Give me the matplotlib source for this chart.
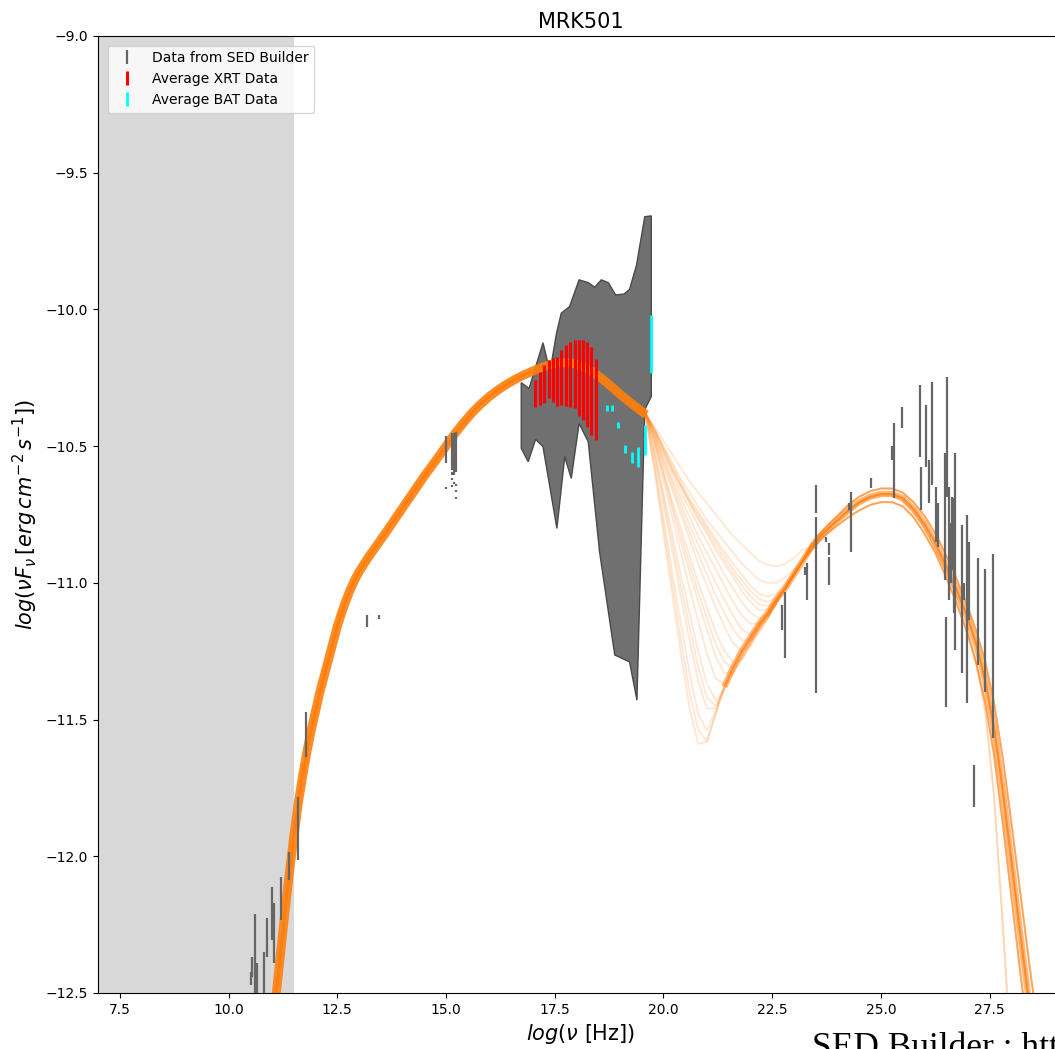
import matplotlib
matplotlib.use("Agg")
import matplotlib.pyplot as plt
import numpy as np

# ---------------- data ----------------
# archival SED Builder points (log nu, lower / upper log nuFnu)
sed_x = [10.51, 10.55, 10.62, 10.66, 10.82, 10.88, 10.99, 11.05, 11.20, 11.38, 11.60, 11.79,
         13.18, 13.45,
         14.99, 15.14, 15.19, 15.22, 15.14, 15.14, 15.14, 15.19, 15.22, 15.22, 15.24, 14.99,
         22.73, 22.80, 23.26, 23.29, 23.50, 23.50, 23.74, 23.81, 23.81, 24.26, 24.30, 24.76,
         25.25, 25.30, 25.49, 25.89, 25.92, 26.03, 26.11, 26.18, 26.26, 26.31, 26.48, 26.50,
         26.52, 26.57, 26.60, 26.64, 26.67, 26.70, 26.86, 26.90, 26.98, 27.02, 27.13, 27.22,
         27.39, 27.58]
sed_lo = [-12.471, -12.44, -12.55, -12.55, -12.55, -12.368, -12.306, -12.392, -12.233, -12.087, -12.014, -11.636,
          -11.163, -11.131,
          -10.561, -10.587, -10.606, -10.595, -10.604, -10.624, -10.649, -10.640, -10.646, -10.667, -10.695, -10.658,
          -11.173, -11.276, -10.971, -11.063, -10.746, -11.404, -10.850, -10.898, -11.008, -10.734, -10.886, -10.654,
          -10.551, -10.691, -10.435, -10.541, -10.734, -10.575, -10.709, -10.642, -10.850, -10.868, -10.990, -11.453,
          -10.685, -11.063, -11.001, -10.953, -11.112, -11.246, -11.331, -11.063, -11.441, -11.136, -11.819, -11.301,
          -11.398, -11.569]
sed_hi = [-12.422, -12.37, -12.21, -12.39, -12.35, -12.227, -12.111, -12.172, -12.077, -11.983, -11.782, -11.471,
          -11.118, -11.118,
          -10.463, -10.453, -10.453, -10.450, -10.596, -10.616, -10.641, -10.632, -10.638, -10.659, -10.687, -10.650,
          -11.081, -11.032, -10.941, -10.929, -10.642, -10.758, -10.831, -10.856, -10.904, -10.709, -10.667, -10.618,
          -10.500, -10.414, -10.358, -10.276, -10.575, -10.350, -10.551, -10.264, -10.648, -10.709, -10.526, -11.124,
          -10.246, -10.648, -10.782, -10.685, -10.691, -10.526, -10.789, -11.001, -10.752, -10.850, -11.667, -10.910,
          -10.951, -10.895]

# Swift-XRT averaged spectrum
xrt_x = [17.04, 17.16, 17.25, 17.36, 17.45, 17.55, 17.65, 17.75, 17.86, 17.96, 18.06, 18.15, 18.24, 18.34, 18.46]
xrt_lo = [-10.358, -10.350, -10.341, -10.325, -10.338, -10.353, -10.350, -10.353, -10.356, -10.362, -10.390,
          -10.404, -10.429, -10.459, -10.478]
xrt_hi = [-10.258, -10.228, -10.203, -10.185, -10.179, -10.173, -10.148, -10.130, -10.118, -10.112, -10.112,
          -10.112, -10.118, -10.136, -10.183]

# Swift-BAT averaged spectrum
bat_x = [18.71, 18.82, 18.95, 19.11, 19.27, 19.42, 19.58, 19.72]
bat_lo = [-10.371, -10.371, -10.433, -10.526, -10.561, -10.575, -10.532, -10.234]
bat_hi = [-10.350, -10.350, -10.411, -10.496, -10.520, -10.502, -10.423, -10.020]

# envelope of the X-ray variability (polygon outline)
poly_x = [16.73, 16.91, 17.23, 17.39, 17.54, 17.65, 17.84, 18.06, 18.27, 18.42, 18.57, 18.73, 18.90, 19.09,
          19.22, 19.38, 19.57, 19.72, 19.72, 19.57, 19.39, 19.22, 18.88, 18.53, 18.27, 18.06, 17.88, 17.73,
          17.55, 17.23, 17.06, 16.89, 16.73]
poly_y = [-10.268, -10.289, -10.122, -10.228, -10.088, -10.014, -9.990, -9.892, -9.902, -9.919, -9.892, -9.902,
          -9.947, -9.944, -9.927, -9.838, -9.661, -9.658, -10.319, -10.366, -11.429, -11.289, -11.264, -10.886,
          -10.484, -10.417, -10.618, -10.539, -10.801, -10.502, -10.475, -10.557, -10.508]

# model curves: synchrotron part (common to all realisations)
sync_x = [10.9, 11.0, 11.1, 11.2, 11.3, 11.4, 11.5, 11.6, 11.7, 11.8, 11.9, 12.0, 12.1, 12.2, 12.3, 12.4,
          12.5, 12.6, 12.7, 12.8, 12.9, 13.0, 13.2, 13.4, 13.6, 13.9, 14.2, 14.5, 14.8, 15.0, 15.2, 15.4,
          15.6, 15.8, 16.0, 16.2, 16.4, 16.6, 16.8, 17.0, 17.2, 17.4, 17.6, 17.8, 18.0, 18.2, 18.4, 18.6,
          18.8, 19.0, 19.2, 19.4, 19.6]
sync_y = [-12.80, -12.65, -12.50, -12.35, -12.20, -12.06, -11.93, -11.81, -11.71, -11.62, -11.54, -11.47,
          -11.40, -11.34, -11.28, -11.22, -11.16, -11.11, -11.065, -11.025, -10.99, -10.96, -10.91, -10.865,
          -10.82, -10.75, -10.68, -10.61, -10.545, -10.50, -10.455, -10.415, -10.378, -10.346, -10.318, -10.294,
          -10.273, -10.255, -10.239, -10.225, -10.212, -10.202, -10.196, -10.195, -10.200, -10.212, -10.231,
          -10.255, -10.282, -10.31, -10.336, -10.361, -10.385]

# model curves: dip region (one row per realisation)
mid_x = [19.6, 19.8, 20.0, 20.2, 20.4, 20.6, 20.8, 21.0, 21.2, 21.4, 21.6, 21.8, 22.0, 22.2, 22.4, 22.6,
         22.8, 23.0, 23.2]
mid_curves = [
    [-10.385, -10.43, -10.48, -10.53, -10.58, -10.63, -10.67, -10.71, -10.75, -10.79, -10.83, -10.86, -10.89, -10.92, -10.935, -10.94, -10.93, -10.91, -10.88],
    [-10.385, -10.44, -10.50, -10.56, -10.62, -10.67, -10.72, -10.77, -10.81, -10.85, -10.89, -10.93, -10.96, -10.99, -11.00, -11.00, -10.98, -10.95, -10.91],
    [-10.385, -10.44, -10.505, -10.57, -10.63, -10.69, -10.74, -10.79, -10.84, -10.885, -10.93, -10.97, -11.01, -11.04, -11.05, -11.04, -11.00, -10.96, -10.92],
    [-10.385, -10.44, -10.51, -10.58, -10.64, -10.70, -10.75, -10.80, -10.85, -10.90, -10.95, -10.99, -11.03, -11.06, -11.07, -11.05, -11.01, -10.96, -10.92],
    [-10.385, -10.445, -10.515, -10.585, -10.645, -10.705, -10.76, -10.81, -10.865, -10.915, -10.965, -11.01, -11.05, -11.08, -11.085, -11.06, -11.02, -10.97, -10.92],
    [-10.385, -10.45, -10.52, -10.59, -10.65, -10.71, -10.77, -10.82, -10.88, -10.93, -10.98, -11.03, -11.07, -11.10, -11.10, -11.06, -11.02, -10.97, -10.92],
    [-10.385, -10.45, -10.53, -10.60, -10.67, -10.73, -10.79, -10.85, -10.91, -10.97, -11.02, -11.07, -11.11, -11.13, -11.12, -11.07, -11.02, -10.97, -10.92],
    [-10.385, -10.46, -10.54, -10.62, -10.69, -10.76, -10.83, -10.89, -10.95, -11.01, -11.07, -11.12, -11.15, -11.15, -11.12, -11.07, -11.02, -10.97, -10.92],
    [-10.385, -10.46, -10.55, -10.63, -10.71, -10.79, -10.86, -10.93, -11.00, -11.06, -11.12, -11.17, -11.19, -11.17, -11.13, -11.07, -11.02, -10.97, -10.92],
    [-10.385, -10.465, -10.56, -10.645, -10.73, -10.815, -10.895, -10.97, -11.045, -11.11, -11.17, -11.21, -11.21, -11.18, -11.13, -11.07, -11.02, -10.97, -10.92],
    [-10.385, -10.47, -10.57, -10.66, -10.75, -10.84, -10.93, -11.01, -11.09, -11.16, -11.22, -11.25, -11.23, -11.18, -11.13, -11.07, -11.02, -10.97, -10.92],
    [-10.385, -10.48, -10.59, -10.70, -10.80, -10.90, -11.00, -11.09, -11.18, -11.25, -11.29, -11.28, -11.23, -11.17, -11.12, -11.07, -11.02, -10.97, -10.92],
    [-10.385, -10.485, -10.60, -10.715, -10.825, -10.93, -11.035, -11.13, -11.225, -11.29, -11.31, -11.28, -11.225, -11.165, -11.115, -11.065, -11.02, -10.97, -10.92],
    [-10.385, -10.49, -10.61, -10.73, -10.85, -10.96, -11.07, -11.17, -11.27, -11.33, -11.33, -11.28, -11.22, -11.16, -11.11, -11.06, -11.02, -10.97, -10.92],
    [-10.385, -10.50, -10.63, -10.76, -10.89, -11.02, -11.14, -11.26, -11.35, -11.37, -11.33, -11.27, -11.21, -11.16, -11.11, -11.06, -11.02, -10.97, -10.92],
    [-10.39, -10.52, -10.67, -10.82, -10.97, -11.11, -11.25, -11.37, -11.43, -11.39, -11.31, -11.25, -11.20, -11.15, -11.11, -11.06, -11.02, -10.97, -10.92],
    [-10.39, -10.53, -10.69, -10.85, -11.01, -11.16, -11.31, -11.42, -11.45, -11.39, -11.31, -11.25, -11.20, -11.15, -11.11, -11.06, -11.02, -10.97, -10.92],
    [-10.39, -10.54, -10.71, -10.88, -11.05, -11.21, -11.36, -11.46, -11.46, -11.38, -11.31, -11.25, -11.20, -11.15, -11.11, -11.06, -11.02, -10.97, -10.92],
    [-10.40, -10.57, -10.76, -10.96, -11.15, -11.33, -11.48, -11.54, -11.47, -11.38, -11.31, -11.25, -11.20, -11.15, -11.11, -11.06, -11.02, -10.97, -10.92],
    [-10.40, -10.58, -10.79, -11.00, -11.21, -11.40, -11.54, -11.58, -11.48, -11.38, -11.31, -11.25, -11.20, -11.15, -11.11, -11.06, -11.02, -10.97, -10.92],
    [-10.40, -10.60, -10.82, -11.04, -11.26, -11.46, -11.59, -11.58, -11.48, -11.38, -11.31, -11.25, -11.20, -11.15, -11.11, -11.06, -11.02, -10.97, -10.92],
]

# inverse-Compton rising branch (common lower envelope)
ic_rise_x = [21.4, 21.6, 21.8, 22.0, 22.2, 22.4, 22.6, 22.8, 23.0, 23.2]
ic_rise_y = [-11.38, -11.31, -11.25, -11.20, -11.15, -11.11, -11.06, -11.02, -10.97, -10.92]

# inverse-Compton bump (a few variants)
ic_x = [23.4, 23.6, 23.8, 24.0, 24.25, 24.5, 24.75, 25.0, 25.25, 25.5, 25.75, 26.0, 26.25, 26.5, 26.75,
        27.0, 27.2, 27.4, 27.6, 27.8, 28.0, 28.2, 28.4, 28.6, 28.8]
ic_curves = [
    [-10.87, -10.83, -10.80, -10.77, -10.735, -10.705, -10.685, -10.675, -10.675, -10.69, -10.73, -10.785, -10.855,
     -10.94, -11.03, -11.13, -11.23, -11.36, -11.53, -11.76, -12.02, -12.28, -12.53, -12.78, -13.03],
    [-10.86, -10.82, -10.785, -10.755, -10.715, -10.685, -10.665, -10.655, -10.655, -10.67, -10.705, -10.755, -10.82,
     -10.90, -10.99, -11.09, -11.18, -11.29, -11.44, -11.64, -11.88, -12.13, -12.38, -12.62, -12.86],
    [-10.88, -10.845, -10.815, -10.79, -10.76, -10.735, -10.715, -10.705, -10.705, -10.72, -10.76, -10.82, -10.89,
     -10.98, -11.08, -11.19, -11.30, -11.44, -11.63, -11.88, -12.15, -12.42, -12.68, -12.94, -13.20],
    [-10.87, -10.835, -10.80, -10.775, -10.74, -10.71, -10.69, -10.68, -10.68, -10.70, -10.74, -10.80, -10.875,
     -10.96, -11.06, -11.17, -11.30, -11.47, -11.78, -12.25, -12.75, -13.25, -13.75, -14.25, -14.75],
]
# which inverse-Compton variant goes with each realisation
ic_choice = [0, 1, 2, 0, 1, 2, 0, 3, 1, 2, 0, 1, 2, 0, 1, 2, 0, 3, 1, 2, 0]

shade_range = [7.0, 11.5]

# ---------------- figure ----------------
fig = plt.figure(figsize=(10.55, 10.49), dpi=100)
ax = fig.add_axes([0.0929, 0.0534, 0.9153, 0.9123])

orange = '#ff7f0e'
ax.axvspan(shade_range[0], shade_range[1], color='gray', alpha=0.3, lw=0, zorder=0)

ax.fill(poly_x, poly_y, facecolor='#707070', edgecolor='#4a4a4a', lw=1.0, zorder=1)

# dense common parts of the model band
ax.plot(sync_x, sync_y, color=orange, lw=6.5, alpha=0.9, solid_joinstyle='round',
        solid_capstyle='butt', zorder=2)
ax.plot(ic_rise_x + ic_x, ic_rise_y + ic_curves[0], color=orange, lw=4.5, alpha=0.55,
        solid_joinstyle='round', solid_capstyle='butt', zorder=2)

# individual model realisations
for mc, k in zip(mid_curves, ic_choice):
    xs = sync_x[:-1] + mid_x + ic_x
    ys = sync_y[:-1] + mc + ic_curves[k]
    ax.plot(xs, ys, color=orange, lw=1.3, alpha=0.18, solid_joinstyle='round', zorder=2)


def center_err(lo, hi):
    lo = np.array(lo)
    hi = np.array(hi)
    return (lo + hi) / 2, (hi - lo) / 2


yc, ye = center_err(sed_lo, sed_hi)
ax.errorbar(sed_x, yc, yerr=ye, fmt='none', ecolor='#666666', elinewidth=1.6, zorder=3,
            label='Data from SED Builder')
yc, ye = center_err(xrt_lo, xrt_hi)
ax.errorbar(xrt_x, yc, yerr=ye, fmt='none', ecolor='red', elinewidth=2.2, zorder=4,
            label='Average XRT Data')
yc, ye = center_err(bat_lo, bat_hi)
ax.errorbar(bat_x, yc, yerr=ye, fmt='none', ecolor='cyan', elinewidth=2.0, zorder=4,
            label='Average BAT Data')

ax.set_xlim(7.0, 29.2)
ax.set_ylim(-12.5, -9.0)
ax.set_xticks([7.5, 10.0, 12.5, 15.0, 17.5, 20.0, 22.5, 25.0, 27.5])
ax.tick_params(labelsize=10)
ax.set_title('MRK501', fontsize=15)
ax.set_xlabel(r'$log(\nu$ [Hz])', fontsize=15)
ax.set_ylabel(r'$log(\nu F_\nu\,[erg\,cm^{-2}\,s^{-1}])$', fontsize=15)
ax.legend(loc='upper left', fontsize=10, borderaxespad=0.7)

fig.text(0.770, -0.008, 'SED Builder : https://tools.ssdc.asi.it/SED/', fontsize=25.5,
         family='Liberation Serif', va='baseline', ha='left')

fig.savefig('out.png', dpi=100)
